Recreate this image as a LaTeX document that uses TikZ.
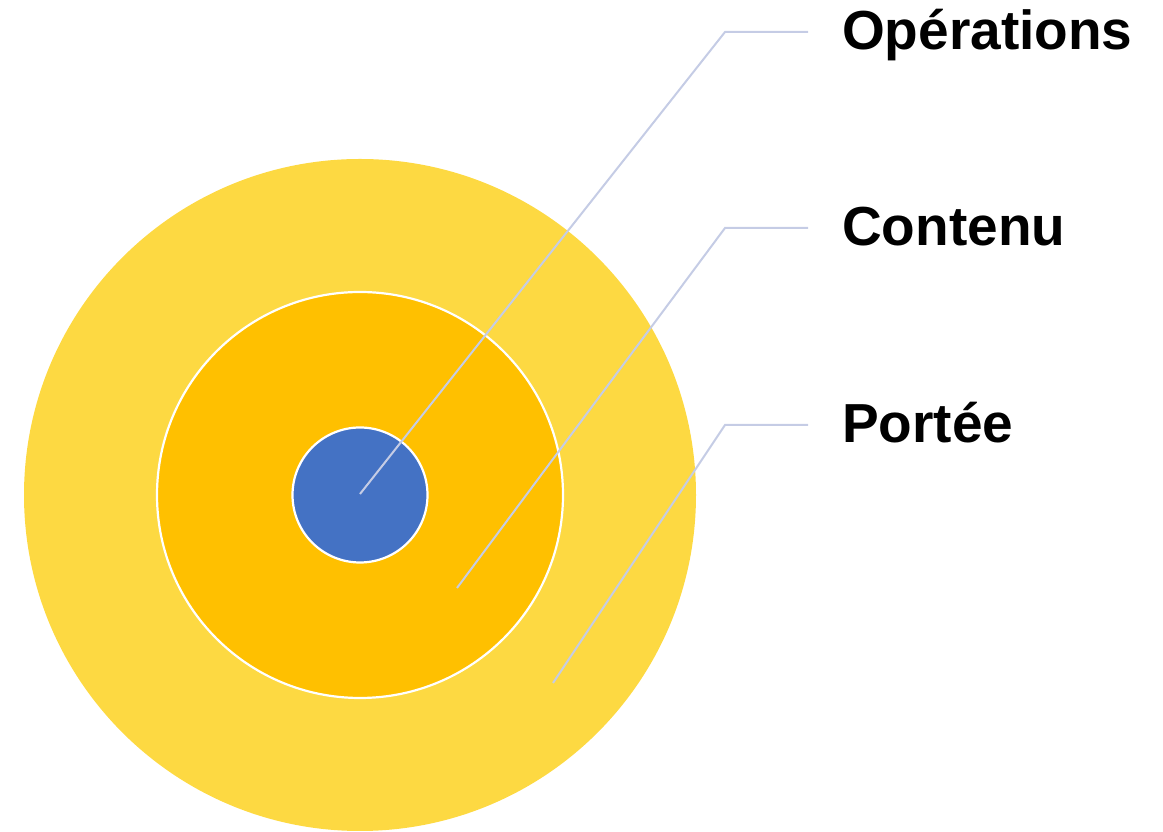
\documentclass[tikz,border=0pt]{standalone}
\usepackage{fontspec}
\setmainfont{Liberation Sans}
\begin{document}
\begin{tikzpicture}[x=1pt,y=1pt,
  ring/.style={circle, draw=white, line width=2.2pt, inner sep=0pt},
  leader/.style={draw=leadc, line width=2pt},
  lab/.style={anchor=base west, font=\fontsize{55}{60}\selectfont\bfseries, inner sep=0pt}]
\definecolor{outerc}{HTML}{FDD942}
\definecolor{midc}{HTML}{FFC000}
\definecolor{innerc}{HTML}{4472C4}
\definecolor{leadc}{HTML}{C5CCE5}
\useasboundingbox (0,0) rectangle (1163,832);
\node[circle, fill=outerc, minimum size=672pt, inner sep=0pt] (outer) at (360,337) {};
\node[ring, fill=midc, minimum size=406pt] (mid) at (360,337) {};
\node[ring, fill=innerc, minimum size=135pt] (inner) at (360,337) {};
\coordinate (p1) at (360,338);
\coordinate (p2) at (457,244);
\coordinate (p3) at (553,149);
\coordinate (k1) at (725,800);
\coordinate (k2) at (725,604);
\coordinate (k3) at (725,407);
\coordinate (e1) at (808,800);
\coordinate (e2) at (808,604);
\coordinate (e3) at (808,407);
\draw[leader] (p1) -- (k1) -- (e1);
\draw[leader] (p2) -- (k2) -- (e2);
\draw[leader] (p3) -- (k3) -- (e3);
\node[lab] (t1) at (842,782) {Opérations};
\node[lab] (t2) at (842,586) {Contenu};
\node[lab] (t3) at (842,389) {Portée};
\end{tikzpicture}
\end{document}
